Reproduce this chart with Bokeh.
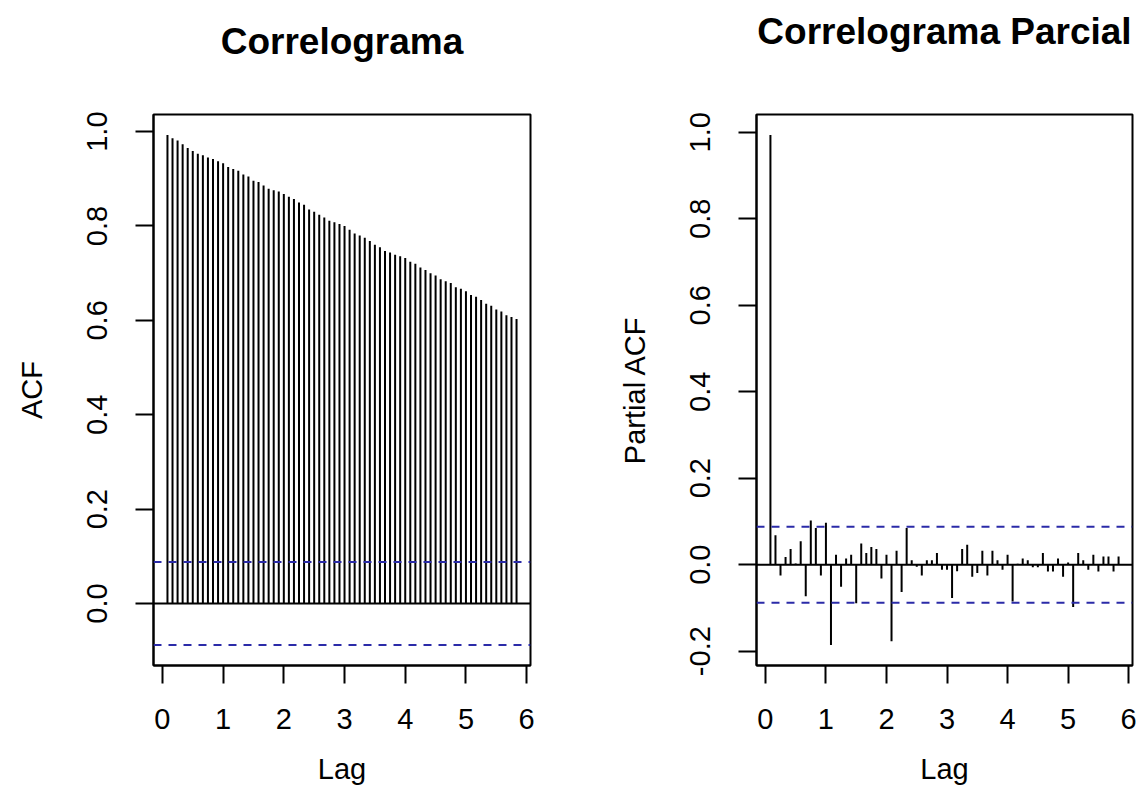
from bokeh.plotting import figure
from bokeh.models import Range1d, FixedTicker, Span, Title
from bokeh.layouts import row
from bokeh.embed import file_html
from bokeh.resources import INLINE

FONT = "Liberation Sans"

# ---------------- data ----------------
freq = 12
lag_index = list(range(1, 71))

acf_values = [
    0.993, 0.986, 0.981, 0.973, 0.965, 0.959, 0.953, 0.950, 0.945, 0.942,
    0.937, 0.933, 0.925, 0.921, 0.917, 0.909, 0.905, 0.896, 0.893, 0.886,
    0.879, 0.876, 0.873, 0.868, 0.862, 0.857, 0.850, 0.845, 0.835, 0.830,
    0.824, 0.818, 0.811, 0.808, 0.804, 0.800, 0.792, 0.784, 0.780, 0.775,
    0.768, 0.760, 0.755, 0.747, 0.744, 0.739, 0.736, 0.732, 0.724, 0.720,
    0.712, 0.707, 0.700, 0.695, 0.687, 0.683, 0.679, 0.670, 0.667, 0.662,
    0.654, 0.650, 0.643, 0.635, 0.631, 0.623, 0.619, 0.611, 0.607, 0.603,
]

pacf_values = [
    0.994, 0.068, -0.025, 0.018, 0.036, 0.003, 0.054, -0.073, 0.102, 0.085,
    -0.025, 0.097, -0.186, 0.023, -0.051, 0.014, 0.023, -0.089, 0.049, 0.027,
    0.041, 0.036, -0.032, 0.023, -0.177, 0.032, -0.063, 0.085, 0.010, -0.005,
    -0.025, 0.010, 0.010, 0.027, -0.012, -0.012, -0.077, -0.015, 0.036, 0.046,
    -0.028, -0.019, 0.032, -0.025, 0.032, 0.010, -0.012, 0.023, -0.085, 0.002,
    0.014, 0.010, -0.006, -0.006, 0.027, -0.016, -0.016, 0.014, -0.028, 0.005,
    -0.098, 0.027, 0.010, -0.012, 0.023, -0.016, 0.019, 0.019, -0.016, 0.019,
]

conf_limit = 0.088

lag_ticks = [0, 1, 2, 3, 4, 5, 6]
lag_tick_labels = ["0", "1", "2", "3", "4", "5", "6"]
acf_ticks = [0.0, 0.2, 0.4, 0.6, 0.8, 1.0]
acf_tick_labels = ["0.0", "0.2", "0.4", "0.6", "0.8", "1.0"]
pacf_ticks = [-0.2, 0.0, 0.2, 0.4, 0.6, 0.8, 1.0]
pacf_tick_labels = ["-0.2", "0.0", "0.2", "0.4", "0.6", "0.8", "1.0"]

lags = [k / freq for k in lag_index]


def padded(lo, hi, frac=0.04):
    d = (hi - lo) * frac
    return lo - d, hi + d


def make_panel(values, title, ylabel, yticks, ylabels, width,
               bl, br, title_gap):
    x0, x1 = padded(min(lags), max(lags))
    y0, y1 = padded(min(min(values), -conf_limit), max(max(values), conf_limit))
    p = figure(width=width, height=812, output_backend="svg",
               toolbar_location=None,
               x_range=Range1d(x0, x1), y_range=Range1d(y0, y1),
               min_border_left=bl, min_border_right=br,
               min_border_top=114, min_border_bottom=147)
    p.background_fill_color = "white"
    p.border_fill_color = "white"
    p.outline_line_color = "black"
    p.outline_line_width = 2
    p.xgrid.visible = False
    p.ygrid.visible = False

    p.segment(x0=lags, y0=[0] * len(values), x1=lags, y1=values,
              line_color="black", line_width=2)
    p.add_layout(Span(location=0, dimension="width",
                      line_color="black", line_width=2))
    for c in (conf_limit, -conf_limit):
        p.add_layout(Span(location=c, dimension="width",
                          line_color="#2B2BA8", line_width=2,
                          line_dash="8 7"))

    # invisible spacer between frame and title
    p.add_layout(Title(text=" ", text_font_size="1px", standoff=title_gap,
                       text_color="white"), "above")

    p.title.text = title
    p.title.align = "center"
    p.title.text_font = FONT
    p.title.text_font_size = "37px"
    p.title.text_font_style = "bold"
    p.title.text_color = "black"
    p.title.standoff = 0

    p.xaxis.ticker = FixedTicker(ticks=lag_ticks)
    p.xaxis.major_label_overrides = {t: l for t, l in zip(lag_ticks, lag_tick_labels)}
    p.yaxis.ticker = FixedTicker(ticks=yticks)
    p.yaxis.major_label_overrides = {t: l for t, l in zip(yticks, ylabels)}
    p.yaxis.major_label_orientation = "vertical"
    p.xaxis.axis_label = "Lag"
    p.yaxis.axis_label = ylabel

    for ax in p.axis:
        ax.axis_line_color = "black"
        ax.axis_line_width = 2
        ax.major_tick_line_color = "black"
        ax.major_tick_line_width = 2
        ax.major_tick_in = 0
        ax.major_tick_out = 18
        ax.minor_tick_line_color = None
        ax.major_label_text_font = FONT
        ax.major_label_text_font_size = "29px"
        ax.major_label_text_color = "black"
        ax.axis_label_text_font = FONT
        ax.axis_label_text_font_size = "29px"
        ax.axis_label_text_font_style = "normal"
        ax.axis_label_text_color = "black"
    p.xaxis.major_label_standoff = 25
    p.xaxis.axis_label_standoff = 21
    p.yaxis.major_label_standoff = 28
    p.yaxis.axis_label_standoff = 37
    return p


p1 = make_panel(acf_values, "Correlograma", "ACF", acf_ticks, acf_tick_labels,
                600, 153, 70, 50)
p2 = make_panel(pacf_values, "Correlograma Parcial", "Partial ACF",
                pacf_ticks, pacf_tick_labels, 539, 156, 7, 60)

layout = row(p1, p2)
open("out.html", "w").write(file_html(layout, INLINE))
